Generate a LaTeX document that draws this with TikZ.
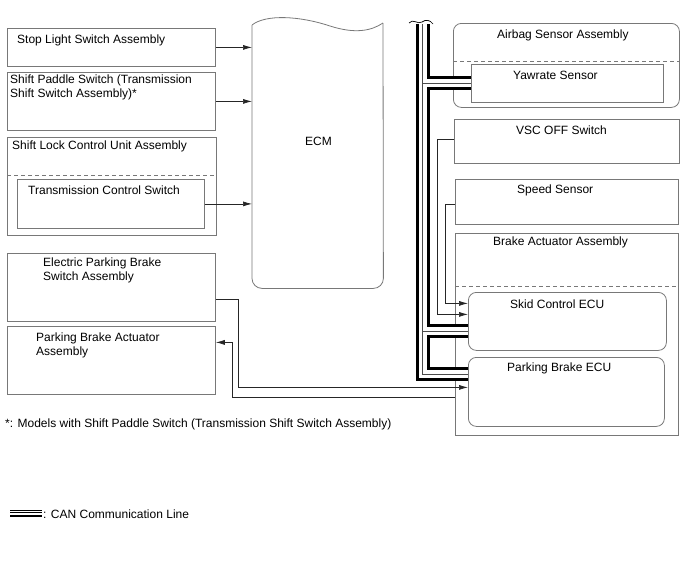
\documentclass[tikz,border=0pt]{standalone}
\usepackage{fontspec}
\setmainfont{Liberation Sans}
\usetikzlibrary{arrows.meta,positioning}
\definecolor{boxgray}{RGB}{120,120,120}

\begin{document}
\begin{tikzpicture}[x=1pt,y=-1pt,
  frame/.style={draw=boxgray,line width=0.8pt,anchor=north west,inner sep=0pt},
  rframe/.style={frame,rounded corners=8pt},
  txt/.style={anchor=base west,inner sep=0pt,font=\fontsize{12}{13.5}\selectfont,align=left},
  sig/.style={draw=black!85,line width=0.7pt,-{Latex[length=9pt,width=5pt]}},
  sep/.style={draw=boxgray,line width=0.8pt,dash pattern=on 4pt off 3pt}]
  \useasboundingbox (0,0) rectangle (688,560);

  % left column
  \node[frame,minimum width=208pt,minimum height=38pt] (stop) at (7,28) {};
  \node[txt] (stoptxt) at (17,43.5) {Stop Light Switch Assembly};
  \node[frame,minimum width=208pt,minimum height=58pt] (paddle) at (7,72) {};
  \node[txt,anchor=north west] (paddletxt) at (10,75) {Shift Paddle Switch (Transmission\\Shift Switch Assembly)*};
  \node[frame,minimum width=209pt,minimum height=98pt] (shiftlock) at (7,137) {};
  \node[txt] (shiftlocktxt) at (12,149) {Shift Lock Control Unit Assembly};
  \draw[sep] (shiftlock.west |- 0,175) -- (shiftlock.east |- 0,175);
  \node[frame,minimum width=187pt,minimum height=49pt] (tcs) at (17,179) {};
  \node[txt] (tcstxt) at (28,194) {Transmission Control Switch};
  \node[frame,minimum width=208pt,minimum height=68pt] (epb) at (7,253) {};
  \node[txt,anchor=north west] (epbtxt) at (43,258) {Electric Parking Brake\\Switch Assembly};
  \node[frame,minimum width=208pt,minimum height=68pt] (pba) at (7,326) {};
  \node[txt,anchor=north west] (pbatxt) at (36,333) {Parking Brake Actuator\\Assembly};

  % ECM with torn top
  \node[inner sep=0pt,minimum width=131pt,minimum height=265pt,anchor=north west] (ecm) at (252,23) {};
  \draw[draw=boxgray,line width=0.8pt] (252,25) .. controls (266,14) and (300,16) .. (330,26)
    .. controls (355,34) and (371,31) .. (383,23);
  \draw[draw=boxgray,line width=0.8pt,rounded corners=10pt]
    (383,23) -- (ecm.south east) -- (ecm.south west) -- (252,25);
  \node[txt] (ecmtxt) at (305,145) {ECM};

  % right column
  \node[rframe,minimum width=226pt,minimum height=84pt] (airbag) at (453,23) {};
  \node[txt] (airbagtxt) at (497,38) {Airbag Sensor Assembly};
  \draw[sep] (airbag.west |- 0,61) -- (airbag.east |- 0,61);
  \node[frame,minimum width=192pt,minimum height=38pt] (yaw) at (471,64) {};
  \node[txt] (yawtxt) at (513,79) {Yawrate Sensor};
  \node[frame,minimum width=225pt,minimum height=44pt] (vsc) at (454,119) {};
  \node[txt] (vsctxt) at (516,134) {VSC OFF Switch};
  \node[frame,minimum width=223pt,minimum height=45pt] (speed) at (455,179) {};
  \node[txt] (speedtxt) at (517,193) {Speed Sensor};
  \node[frame,minimum width=223pt,minimum height=202pt] (brake) at (455,233) {};
  \node[txt] (braketxt) at (493,245) {Brake Actuator Assembly};
  \draw[sep] (brake.west |- 0,286) -- (brake.east |- 0,286);
  \node[rframe,minimum width=198pt,minimum height=58pt] (skid) at (468,292) {};
  \node[txt] (skidtxt) at (510,308) {Skid Control ECU};
  \node[rframe,minimum width=196pt,minimum height=69pt] (pbecu) at (468,357) {};
  \node[txt] (pbecutxt) at (507,371) {Parking Brake ECU};

  % signal lines
  \draw[sig] (stop.east) -- (stop.east -| ecm.west);
  \draw[sig] (paddle.east) -- (paddle.east -| ecm.west);
  \draw[sig] (tcs.east) -- (tcs.east -| ecm.west);
  \draw[sig] ([yshift=-12pt]epb.east) -- ++(23,0) |- ([yshift=4.5pt]pbecu.west);
  \draw[sig] ([yshift=-63pt]brake.west) -| ([xshift=17pt,yshift=18pt]pba.east) -- ([yshift=18pt]pba.east);
  \draw[sig] ([yshift=2pt]vsc.west) -- ++(-17,0) |- ([yshift=7pt]skid.west);
  \draw[sig] ([yshift=-2.5pt]speed.west) -- ++(-10,0) |- ([yshift=18pt]skid.west);

  % CAN bus
  \coordinate (bustop) at (422.5,24);
  \coordinate (skidcan) at ([yshift=-9.5pt]skid.west);
  \coordinate (pbcan) at ([yshift=17.5pt]pbecu.west);
  \foreach \w/\c in {14/black, 8/white, 0.6/black!70} {
    \draw[line width=\w pt,draw=\c] (bustop) |- (pbcan);
    \draw[line width=\w pt,draw=\c] (bustop |- yaw.west) -- (yaw.west);
    \draw[line width=\w pt,draw=\c] (bustop |- skidcan) -- (skidcan);
  }
  \draw[line width=0.7pt] (409,23) .. controls (413,18) and (418,25) .. (422,22)
    .. controls (426,19) and (430,20) .. (433,24);

  % notes
  \node[txt] (note) at (5,427) {*: Models with Shift Paddle Switch (Transmission Shift Switch Assembly)};
  \foreach \yy/\w in {510/1, 512.5/1, 515.5/2}
    \draw[line width=\w pt] (10,\yy) -- (42,\yy);
  \node[txt] (legend) at (43,518) {: CAN Communication Line};
\end{tikzpicture}
\end{document}
